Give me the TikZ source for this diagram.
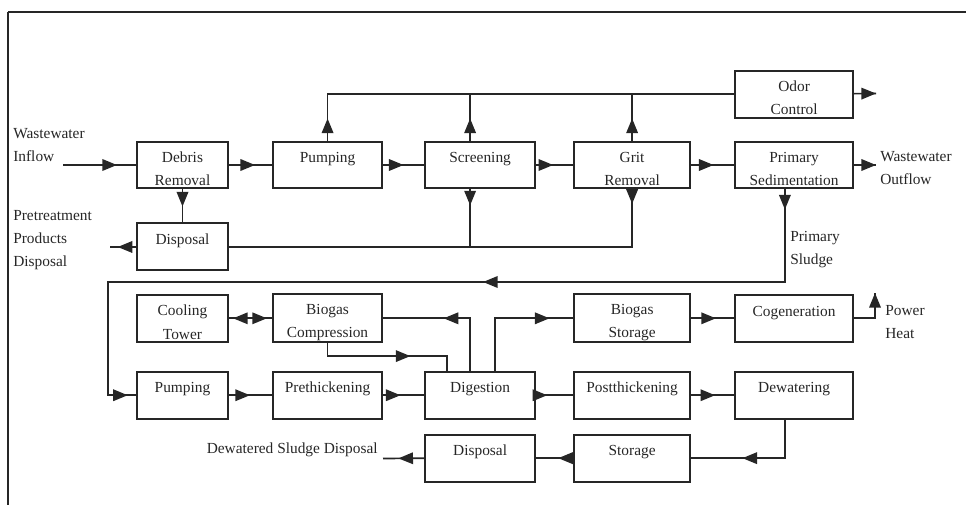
\documentclass[tikz,border=0pt]{standalone}
\usepackage{fontspec}
\setmainfont{Liberation Serif}
\usetikzlibrary{positioning, arrows.meta, decorations.markings}

\begin{document}
\begin{tikzpicture}[x=0.65pt, y=-0.65pt, >={Triangle[length=9.5pt, width=7.5pt]},
    box/.style={draw=black!85, line width=1.3pt, rectangle, minimum height=30.5pt, inner sep=1pt, outer sep=0pt, align=center, text=black!85, font=\fontsize{10}{15}\selectfont, execute at begin node={\rule{0pt}{27pt}}},
    col1/.style={box, minimum width=59.2pt},
    col2/.style={box, minimum width=70.9pt},
    col3/.style={box, minimum width=71.5pt},
    col4/.style={box, minimum width=75.4pt},
    col5/.style={box, minimum width=76.7pt},
    note/.style={align=left, inner sep=0pt, text=black!85, font=\fontsize{10}{15}\selectfont},
    flow/.style={draw=black!85, line width=1.1pt, postaction={decorate}, decoration={markings, mark=at position #1 with {\arrow{>}}}},
    flow/.default=-13pt]
        \useasboundingbox (0,0) rectangle (966,505);
        \draw[black!85, line width=1.8pt] (966,12) -- (8,12);
        \draw[black!85, line width=1.2pt] (8,12) -- (8,505);

        % pretreatment line
        \node[col1] (debris) at (182.5,165) {Debris\\Removal};
        \node[col2, right=29.25pt of debris] (pumping) {Pumping\\\mbox{}};
        \node[col3, right=27.95pt of pumping] (screening) {Screening\\\mbox{}};
        \node[col4, right=25.35pt of screening] (grit) {Grit\\Removal};
        \node[col5, right=29.25pt of grit] (primary) {Primary\\Sedimentation};
        \node[col5, above=15.6pt of primary] (odor) {Odor\\Control};
        \node[col1, below=22.75pt of debris] (disposal) {Disposal\\\mbox{}};

        % sludge line
        \node[col1, below=15.9pt of disposal] (cooling) {Cooling\\Tower};
        \node[col2, right=29.25pt of cooling] (compression) {Biogas\\Compression};
        \node[col4] (biostore) at (grit |- cooling) {Biogas\\Storage};
        \node[col5] (cogen) at (primary |- cooling) {Cogeneration\\\mbox{}};
        \node[col1, below=19.5pt of cooling] (pumping2) {Pumping\\\mbox{}};
        \node[col2, right=29.25pt of pumping2] (prethick) {Prethickening\\\mbox{}};
        \node[col3, right=27.95pt of prethick] (digestion) {Digestion\\\mbox{}};
        \node[col4, right=25.35pt of digestion] (postthick) {Postthickening\\\mbox{}};
        \node[col5, right=29.25pt of postthick] (dewatering) {Dewatering\\\mbox{}};
        \node[col3, below=10.4pt of digestion] (disposal2) {Disposal\\\mbox{}};
        \node[col4] (storage) at (postthick |- disposal2) {Storage\\\mbox{}};

        % outside labels
        \node[note, anchor=west] (inlabel) at (13,145) {Wastewater\\Inflow};
        \node[note, anchor=west] (outlabel) at (880,168) {Wastewater\\Outflow};
        \node[note, anchor=west] (pretlabel) at (13,240) {Pretreatment\\Products\\Disposal};
        \node[note, anchor=west] (sludgelabel) at (790,250) {Primary\\Sludge};
        \node[note, anchor=west] (powerlabel) at (885,322) {Power\\Heat};
        \node[note, anchor=east] (dewlabel) at (378,450) {Dewatered Sludge Disposal};

        \coordinate (inflow) at (63,165);
        \coordinate (outflow) at (876,165);
        \coordinate (odorout) at (876,93.5);
        \coordinate (pretreat) at (110,247);
        \coordinate (turn) at (108,282);
        \coordinate (power) at (875,293);
        \coordinate (dewsludge) at (383,458.5);

        \draw[flow] (inflow) -- (debris);
        \draw[flow=-11.7pt] (debris) -- (pumping);
        \draw[flow=-14pt] (pumping) -- (screening);
        \draw[flow=-13.6pt] (screening) -- (grit);
        \draw[flow=-14pt] (grit) -- (primary);
        \draw[flow=1] (primary) -- (outflow);
        \draw[flow=1] (odor) -- (odorout);
        \draw[flow=15pt] (pumping.north) |- (odor.west);
        \draw[flow=15pt] ([xshift=-6.5pt]screening.north) |- (odor.west);
        \draw[flow=15pt] (grit.north) |- (odor.west);
        \draw[flow=-11pt] (debris) -- (disposal);
        \draw[flow=11pt] ([xshift=-6.5pt]screening.south) |- (disposal.east);
        \draw[flow=10pt] (grit.south) |- (disposal.east);
        \draw[flow=-5pt] (disposal) -- (pretreat);
        \draw[draw=black!85, line width=1.1pt, postaction={decorate}, decoration={markings,
            mark=at position 13.7pt with {\arrow{>}},
            mark=at position 257pt with {\arrow{>}},
            mark=at position -6pt with {\arrow{>}}}]
            ([xshift=-6pt]primary.south) |- (turn) |- (pumping2.west);

        \draw[draw=black!85, line width=1.1pt, postaction={decorate}, decoration={markings,
            mark=at position 3.3pt with {\arrowreversed{>}},
            mark=at position -4pt with {\arrow{>}}}]
            (cooling) -- (compression);
        \draw[flow=-40pt] ([xshift=-6.5pt]digestion.north) |- (compression.east);
        \draw[flow=-34pt] (compression.south) -- ++(0,-9pt) -| ([xshift=-21.5pt]digestion.north);
        \draw[flow=-16pt] ([xshift=9.75pt]digestion.north) |- (biostore.west);
        \draw[flow=-12.5pt] (biostore) -- (cogen);
        \draw[flow=1] (cogen.east) -| (power);
        \draw[flow=-15pt] (pumping2) -- (prethick);
        \draw[flow=-16pt] (prethick) -- (digestion);
        \draw[flow=-17.5pt] (digestion) -- (postthick);
        \draw[flow=-13pt] (postthick) -- (dewatering);
        \draw[flow=-34pt] ([xshift=-6pt]dewatering.south) |- (storage.east);
        \draw[flow=-15pt] (storage) -- (disposal2);
        \draw[flow=-10pt] (disposal2.west) -- (dewsludge);
    \end{tikzpicture}
\end{document}
